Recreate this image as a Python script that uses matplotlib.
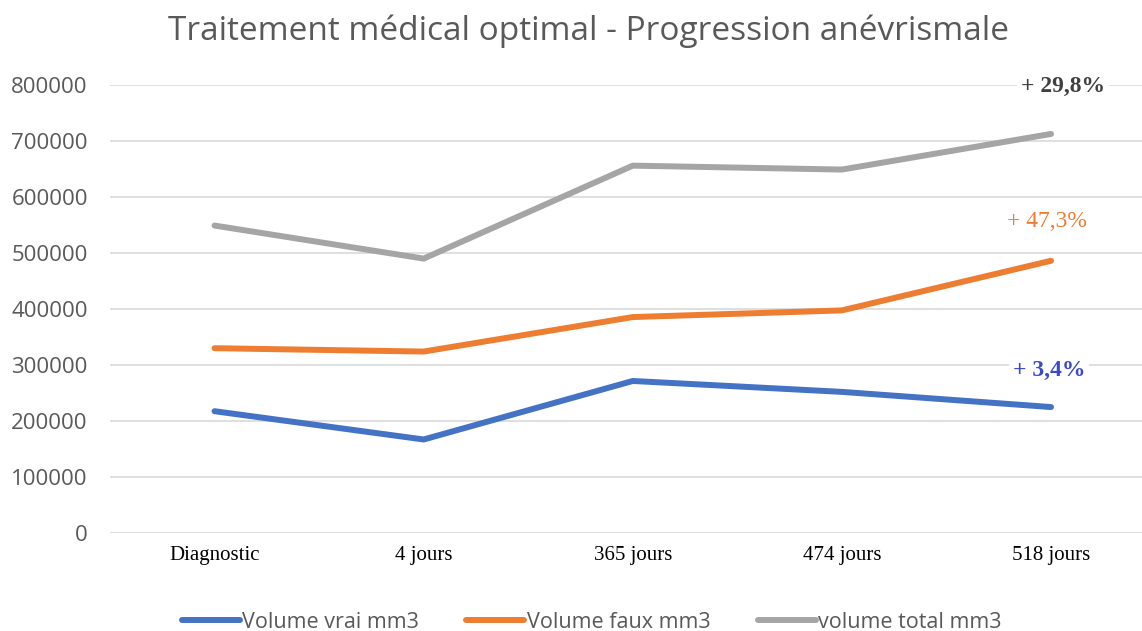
import matplotlib.pyplot as plt

timepoints = ["Diagnostic", "4 jours", "365 jours", "474 jours", "518 jours"]
vol_vrai = [217500, 167000, 271500, 252000, 224900]
vol_faux = [330000, 324000, 385600, 397500, 486100]
vol_total = [549000, 490000, 656000, 649000, 712600]

labels_pct = ["+ 3,4%", "+ 47,3%", "+ 29,8%"]
yticks = [0, 100000, 200000, 300000, 400000, 500000, 600000, 700000, 800000]

c_blue = "#4472C4"
c_orange = "#ED7D31"
c_grey = "#A5A5A5"
txt_grey = "#595959"

fig = plt.figure(figsize=(11.42, 6.31), dpi=100)
ax = fig.add_axes([0.0963, 0.1553, 0.9037, 0.71])

x = list(range(len(timepoints)))
ax.plot(x, vol_vrai, color=c_blue, lw=4.3, solid_capstyle="round",
        solid_joinstyle="round", label="Volume vrai mm3", zorder=3)
ax.plot(x, vol_faux, color=c_orange, lw=4.3, solid_capstyle="round",
        solid_joinstyle="round", label="Volume faux mm3", zorder=3)
ax.plot(x, vol_total, color=c_grey, lw=4.3, solid_capstyle="round",
        solid_joinstyle="round", label="volume total mm3", zorder=3)

ax.set_xlim(-0.5, 4.435)
ax.set_ylim(0, 800000)
ax.set_yticks(yticks)
ax.set_yticklabels([str(v) for v in yticks], fontfamily="Open Sans",
                   fontsize=16, color=txt_grey)
ax.set_xticks(x)
ax.set_xticklabels(timepoints, fontfamily="Liberation Serif", fontsize=15,
                   color="black")
ax.tick_params(axis="y", length=0, pad=16)
ax.tick_params(axis="x", length=0, pad=9)
for s in ax.spines.values():
    s.set_visible(False)
ax.grid(axis="y", color="#D9D9D9", lw=1.2, zorder=0)
ax.set_axisbelow(True)

# percentage change labels above the last point of each series
last = len(timepoints) - 1
specs = [
    (vol_vrai, labels_pct[0], "#3B4BC8", "bold", -2, 37),
    (vol_faux, labels_pct[1], c_orange, "normal", -4, 39),
    (vol_total, labels_pct[2], "#404040", "bold", 12, 47),
]
for series, txt, col, wt, dx, dy in specs:
    ax.annotate(txt, xy=(last, series[last]), xytext=(dx, dy),
                textcoords="offset pixels", ha="center", va="center",
                fontfamily="Liberation Serif", fontsize=17, fontweight=wt,
                color=col, zorder=4,
                bbox=dict(boxstyle="square,pad=0.15", fc="white", ec="none"))

fig.text(0.515, 0.951, "Traitement médical optimal - Progression anévrismale",
         ha="center", va="center", fontfamily="Open Sans", fontsize=24,
         color=txt_grey)

leg = fig.legend(loc="center", bbox_to_anchor=(0.518, 0.014), ncol=3,
                 frameon=False, handlelength=2.7, handletextpad=0.1,
                 columnspacing=2.2,
                 prop={"family": "Open Sans", "size": 15.5})
for t in leg.get_texts():
    t.set_color(txt_grey)

fig.savefig("out.png", dpi=100)
